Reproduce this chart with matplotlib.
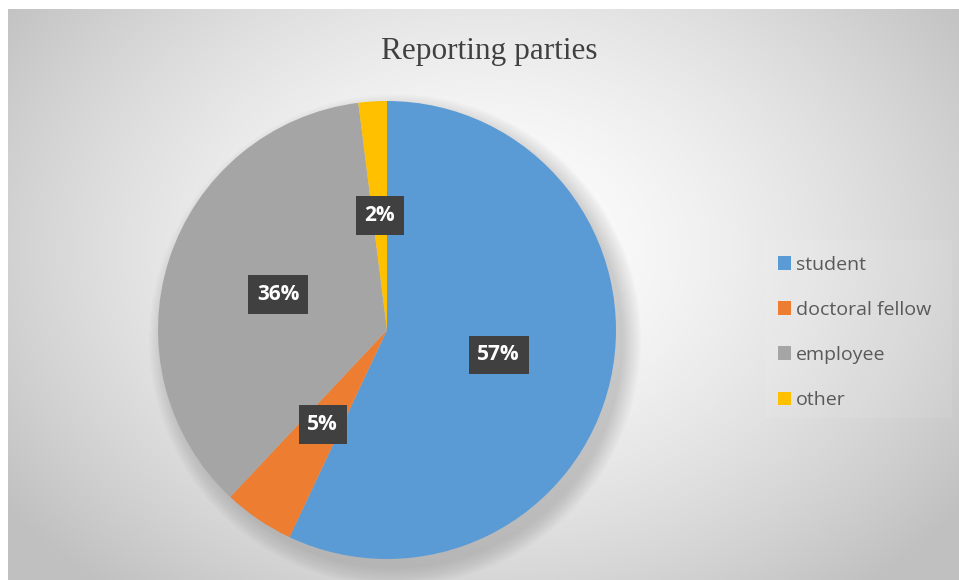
import numpy as np
import matplotlib
matplotlib.use("Agg")
import matplotlib.pyplot as plt
from matplotlib.patches import Patch, Circle

# Data
categories = ["student", "doctoral fellow", "employee", "other"]
values = [57, 5, 36, 2]
colors = ["#5B9BD5", "#ED7D31", "#A5A5A5", "#FFC000"]
title = "Reporting parties"

W, H = 959, 580
fig = plt.figure(figsize=(W / 100, H / 100), dpi=100)
fig.patch.set_facecolor("white")

# Background radial gradient for chart area (x 8..959, y 9..580 from top)
bx0, by0 = 8, 9
bg = fig.add_axes([bx0 / W, 0, (W - bx0) / W, (H - by0) / H])
bw, bh = W - bx0, H - by0
yy, xx = np.mgrid[0:bh, 0:bw]
cx, cy = bw * 0.5, bh * 0.42
r = np.sqrt(((xx - cx) / (bw * 0.62)) ** 2 + ((yy - cy) / (bh * 0.78)) ** 2)
r = np.clip(r, 0, 1)
g = 255 - (255 - 192) * r ** 1.5
img = np.dstack([g, g, g]).astype(np.uint8)
bg.imshow(img, aspect="auto", extent=[0, bw, bh, 0], interpolation="bilinear")
bg.set_xlim(0, bw)
bg.set_ylim(bh, 0)
bg.axis("off")

# legend background box
leg_box = plt.Rectangle((765 - bx0, 240 - by0), 187, 178, facecolor="white",
                        alpha=0.08, edgecolor="none")
bg.add_patch(leg_box)

# Pie axes: center (387, 330) px from top, radius 229
R = 229
pcx, pcy = 387, H - 330
ax = fig.add_axes([(pcx - R) / W, (pcy - R) / H, 2 * R / W, 2 * R / H])
ax.set_xlim(-1, 1)
ax.set_ylim(-1, 1)
ax.axis("off")

# soft shadow (offset toward bottom-right)
for i in range(14):
    rad = 0.99 + 0.006 * (i + 1)
    ax.add_patch(Circle((0.035, -0.045), rad, facecolor="#707070",
                        alpha=0.025, edgecolor="none", zorder=0, clip_on=False))

wedges, texts, autotexts = ax.pie(
    values, colors=colors, startangle=90, counterclock=False, radius=1.0,
    autopct=lambda p: f"{p:.0f}%", pctdistance=0.5,
    wedgeprops=dict(linewidth=0, edgecolor="none"),
    textprops=dict(color="white", fontsize=15, fontweight="bold",
                   family="Open Sans"))
for w in wedges:
    w.set_zorder(2)
for t in autotexts:
    t.set_zorder(5)
    t.set_bbox(dict(boxstyle="square,pad=0.42", facecolor="#404040",
                    edgecolor="none"))
ax.set_xlim(-1, 1)
ax.set_ylim(-1, 1)

# Title
fig.text(489 / W, 1 - 52 / H, title, ha="center", va="center",
         fontsize=22.5, family="Liberation Serif", color="#404040")

# Legend
handles = [Patch(facecolor=c, edgecolor="none") for c in colors]
leg = fig.legend(handles, categories, loc="upper left",
                 bbox_to_anchor=(760 / W, 1 - 238 / H),
                 frameon=False, handlelength=0.7, handleheight=0.7,
                 handletextpad=0.25, labelspacing=1.4,
                 prop=dict(family="Open Sans", size=14))
for t in leg.get_texts():
    t.set_color("#595959")

fig.savefig("out.png", dpi=100)
